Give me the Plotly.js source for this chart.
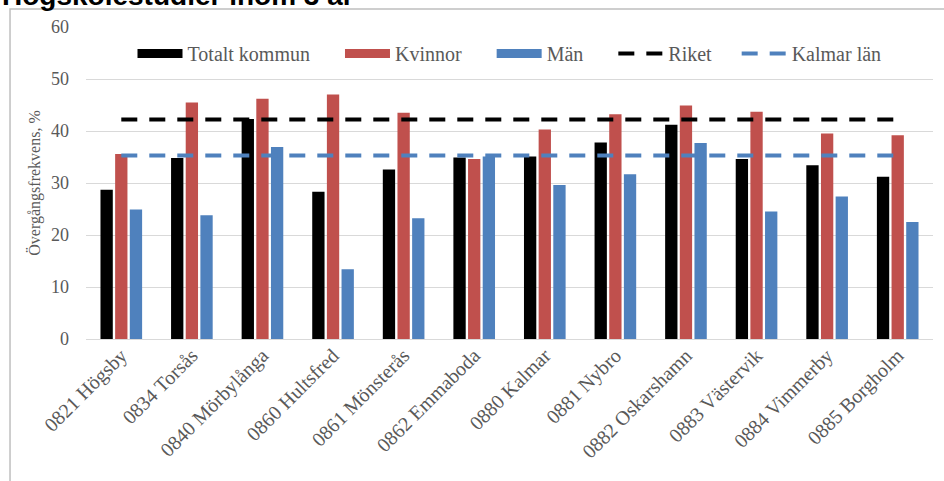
<!DOCTYPE html>
<html>
<head>
<meta charset="utf-8">
<script src="https://cdn.plot.ly/plotly-3.0.1.min.js"></script>
<style>
html,body{margin:0;padding:0;background:#fff;}
#chart{width:944px;height:481px;}
</style>
</head>
<body>
<div id="chart"></div>
<script>
// ---- data ----
var categories = ["0821 Högsby","0834 Torsås","0840 Mörbylånga","0860 Hultsfred","0861 Mönsterås","0862 Emmaboda","0880 Kalmar","0881 Nybro","0882 Oskarshamn","0883 Västervik","0884 Vimmerby","0885 Borgholm"];
var totaltKommun = [28.7,34.8,42.3,28.3,32.6,34.9,35.1,37.8,41.2,34.6,33.4,31.2];
var kvinnor      = [35.6,45.5,46.2,47.0,43.5,34.6,40.3,43.2,44.9,43.7,39.5,39.2];
var man          = [24.9,23.8,36.9,13.4,23.2,35.1,29.6,31.7,37.7,24.5,27.4,22.5];
var riketValue = 42.2;
var kalmarLanValue = 35.3;
var seriesNames = ["Totalt kommun","Kvinnor","Män","Riket","Kalmar län"];
var chartTitle = "Högskolestudier inom 3 år";
var yTitle = "Övergångsfrekvens, %";

var riket = categories.map(function(){return riketValue;});
var kalmarLan = categories.map(function(){return kalmarLanValue;});

var cBlack = "#000000", cRed = "#c0504d", cBlue = "#4f81bd";
var txt = "#595959";
var font = "Liberation Serif";
var pad = "\u00a0\u00a0\u00a0\u00a0\u00a0";
var padShort = "\u00a0\u00a0\u00a0\u00a0";

function proxy(name, color){
  return {type:"scatter", mode:"lines", x:[null], y:[null], name:name + pad,
          line:{color:color, width:9}, hoverinfo:"skip"};
}

var data = [
  proxy(seriesNames[0], cBlack),
  proxy(seriesNames[1], cRed),
  proxy(seriesNames[2], cBlue),
  {type:"bar", x:categories, y:totaltKommun, name:seriesNames[0], marker:{color:cBlack}, showlegend:false},
  {type:"bar", x:categories, y:kvinnor, name:seriesNames[1], marker:{color:cRed}, showlegend:false},
  {type:"bar", x:categories, y:man, name:seriesNames[2], marker:{color:cBlue}, showlegend:false},
  {type:"scatter", mode:"lines", x:categories, y:riket, name:seriesNames[3] + padShort,
   line:{color:cBlack, width:4, dash:"16px,12px"}},
  {type:"scatter", mode:"lines", x:categories, y:kalmarLan, name:seriesNames[4],
   line:{color:cBlue, width:4, dash:"16px,12px"}}
];

var layout = {
  width:944, height:481,
  margin:{l:86, r:11, t:27, b:142, pad:0},
  paper_bgcolor:"#ffffff", plot_bgcolor:"#ffffff",
  font:{family:font, color:txt, size:18},
  barmode:"group", bargap:0.377, bargroupgap:0.16,
  showlegend:true,
  legend:{orientation:"h", x:0.5, xanchor:"center", y:0.915, yanchor:"middle",
          font:{family:font, size:20, color:txt}, itemwidth:45, bgcolor:"rgba(255,255,255,0)",
          traceorder:"normal"},
  xaxis:{type:"category", tickangle:-45, showgrid:false, zeroline:false, showline:false,
         ticks:"", tickfont:{family:font, size:20, color:txt}, fixedrange:true},
  yaxis:{range:[0,60], dtick:10, tick0:0, showgrid:true, gridcolor:"#d9d9d9", gridwidth:1,
         zeroline:true, zerolinecolor:"#d9d9d9", zerolinewidth:1, showline:false, ticks:"",
         ticklabelstandoff:16, tickfont:{family:font, size:18, color:txt},
         title:{text:yTitle, font:{family:font, size:16, color:txt}, standoff:6}},
  annotations:[
    {xref:"paper", yref:"paper", x:-0.1015, y:1.0449, xanchor:"left", yanchor:"bottom",
     text:"<b>"+chartTitle+"</b>", showarrow:false,
     font:{family:"Liberation Sans", size:28, color:"#000000"}}
  ],
  shapes:[
    {type:"rect", xref:"paper", yref:"paper", x0:-0.0897, x1:1.05, y0:-0.5, y1:1.0577,
     line:{color:"#bfbfbf", width:1.5}, fillcolor:"rgba(0,0,0,0)", layer:"above"}
  ]
};

Plotly.newPlot("chart", data, layout, {displayModeBar:false, staticPlot:true});
</script>
</body>
</html>
